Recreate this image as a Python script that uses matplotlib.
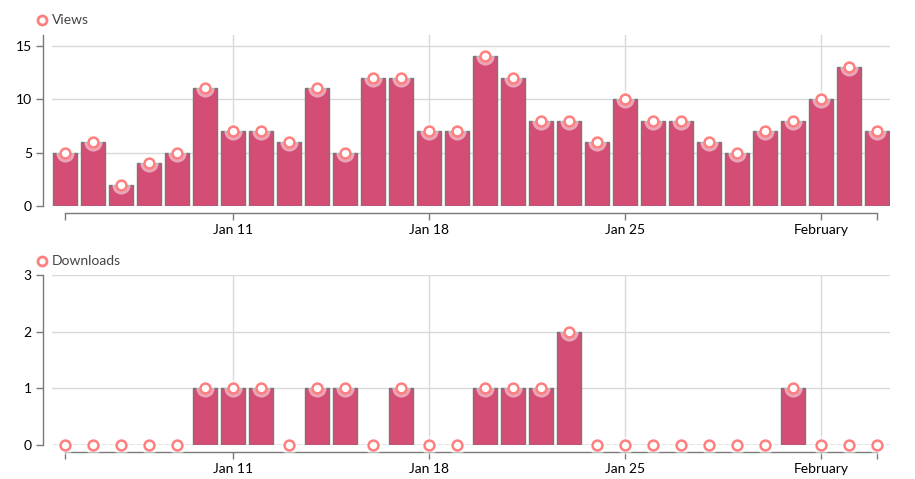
import matplotlib
matplotlib.use("Agg")
import matplotlib.pyplot as plt
import matplotlib.dates as mdates
from matplotlib import font_manager as fm
import pandas as pd
import numpy as np

plt.rcParams['font.family'] = ['Lato', 'DejaVu Sans']

dates = pd.date_range("2015-01-05", "2015-02-03", freq="D")
views = [5, 6, 2, 4, 5, 11, 7, 7, 6, 11, 5, 12, 12, 7, 7, 14, 12, 8, 8, 6, 10, 8, 8, 6, 5, 7, 8, 10, 13, 7]
downloads = [0, 0, 0, 0, 0, 1, 1, 1, 0, 1, 1, 0, 1, 0, 0, 1, 1, 1, 2, 0, 0, 0, 0, 0, 0, 0, 1, 0, 0, 0]
major_ticks = ["2015-01-11", "2015-01-18", "2015-01-25", "2015-02-01"]
major_labels = ["Jan 11", "Jan 18", "Jan 25", "February"]

bold_files = [f.fname for f in fm.fontManager.ttflist
              if f.name == "Lato" and f.weight == 700 and f.style == "normal"]
if bold_files:
    BOLD = fm.FontProperties(fname=bold_files[0], size=8.5)
else:
    BOLD = fm.FontProperties(family="Lato", weight="bold", size=8.5)

W, H = 915, 479
fig = plt.figure(figsize=(W / 100, H / 100), dpi=100)

BAR = "#d44d74"
EDGE = "#777777"
MK = "#ff7f7f"
GRID = "#d9d9d9"
SP = "#7a7a7a"

def make_axes(top_px, bottom_px):
    return fig.add_axes([52 / W, 1 - bottom_px / H, (890 - 52) / W, (bottom_px - top_px) / H])

def style(ax, series, ymax, yticks, title, title_y):
    x = mdates.date2num(dates)
    ax.bar(x, series, width=0.88, color=BAR, edgecolor=EDGE, linewidth=1.0, zorder=2)
    ax.scatter(x, series, s=170, color="white", alpha=0.5, zorder=3, linewidths=0, clip_on=False)
    ax.scatter(x, series, s=50, facecolor="white", edgecolor=MK, linewidths=1.8, zorder=4, clip_on=False)
    ax.set_xlim(x[0] - 0.46, x[-1] + 0.46)
    ax.set_ylim(0, ymax)
    ax.set_yticks(yticks)
    ax.set_yticklabels([str(v) for v in yticks], fontsize=9, color="#333333")
    mt = mdates.date2num(pd.to_datetime(major_ticks))
    ax.set_xticks(mt)
    ax.set_xticklabels(major_labels, fontproperties=BOLD, color="#333333")
    ax.set_xticks([x[0], x[-1]], minor=True)
    ax.tick_params(axis="x", which="both", direction="out", length=5, width=1, color=SP, pad=3)
    ax.tick_params(axis="y", direction="out", length=5, width=1, color=SP, pad=3)
    for s in ["top", "right"]:
        ax.spines[s].set_visible(False)
    ax.spines["left"].set_position(("outward", 6.5))
    ax.spines["bottom"].set_position(("outward", 5))
    ax.spines["bottom"].set_bounds(x[0], x[-1])
    for s in ["left", "bottom"]:
        ax.spines[s].set_color(SP)
        ax.spines[s].set_linewidth(1)
    for v in yticks:
        ax.axhline(v, color=GRID, linewidth=1, zorder=1)
    for t in mt:
        ax.axvline(t, color=GRID, linewidth=1, zorder=1)
    fig.add_artist(plt.Line2D([42 / W], [1 - title_y / H], marker="o", markersize=6.5,
                              markerfacecolor="white", markeredgecolor=MK, markeredgewidth=2,
                              transform=fig.transFigure))
    fig.text(52 / W, 1 - title_y / H, title, fontsize=10, color="#444444", va="center", ha="left")

ax1 = make_axes(35, 206)
style(ax1, views, 16, [0, 5, 10, 15], "Views", 20)
ax2 = make_axes(275, 445)
style(ax2, downloads, 3, [0, 1, 2, 3], "Downloads", 261)

fig.savefig("out.png", dpi=100)
